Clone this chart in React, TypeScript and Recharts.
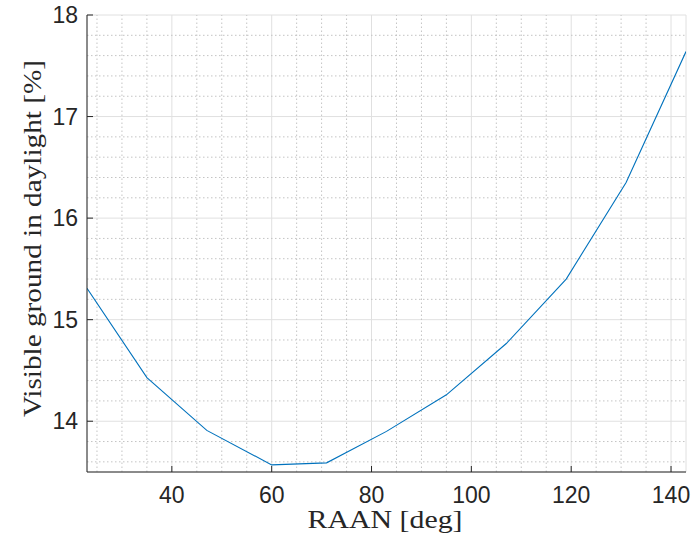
import React from 'react';
import { LineChart, Line, XAxis, YAxis, CartesianGrid, ReferenceLine } from 'recharts';

const raan = [23, 35, 47, 60, 71, 83, 95, 107, 119, 131, 143];
const visible = [15.31, 14.43, 13.91, 13.57, 13.59, 13.9, 14.26, 14.765, 15.4, 16.35, 17.64];

const xTicks = [40, 60, 80, 100, 120, 140];
const yTicks = [14, 15, 16, 17, 18];
const xMinor = [25, 30, 35, 45, 50, 55, 65, 70, 75, 85, 90, 95, 105, 110, 115, 125, 130, 135];
const yMinor = [13.6, 13.8, 14.2, 14.4, 14.6, 14.8, 15.2, 15.4, 15.6, 15.8, 16.2, 16.4, 16.6, 16.8, 17.2, 17.4, 17.6, 17.8];

const data = raan.map((r, i) => ({ raan: r, v: visible[i] }));

const AXIS = '#262626';
const tickFont = { fontFamily: '"Liberation Sans", Arial, sans-serif', fontSize: 23, fill: '#262626' };
const labelFont = '"Liberation Serif", "Times New Roman", serif';

export default function App() {
  return (
    <div style={{ position: 'absolute', left: 0, top: 0, background: '#fff' }}>
      <LineChart width={691} height={548} data={data} margin={{ top: 15, right: 5, bottom: 0, left: 0 }}>
        {yMinor.map((v) => (
          <ReferenceLine key={'ym' + v} y={v} stroke="#c4c4c4" strokeDasharray="1.5 2.5" strokeWidth={1} />
        ))}
        {xMinor.map((v) => (
          <ReferenceLine key={'xm' + v} x={v} stroke="#c4c4c4" strokeDasharray="1.5 2.5" strokeWidth={1} />
        ))}
        <CartesianGrid stroke="#e0e0e0" strokeWidth={1} />
        <XAxis
          dataKey="raan"
          type="number"
          domain={[23, 143]}
          ticks={xTicks}
          allowDataOverflow
          height={76}
          stroke={AXIS}
          tickSize={-6}
          tickMargin={21}
          tick={tickFont}
          label={(p: any) => {
            const vb = p.viewBox;
            return (
              <text x={vb.x + vb.width / 2 - 1.5} y={528} textAnchor="middle"
                textLength={155} lengthAdjust="spacingAndGlyphs"
                style={{ fontFamily: labelFont, fontSize: 25, fill: '#262626' }}>
                RAAN [deg]
              </text>
            );
          }}
        />
        <XAxis
          xAxisId="top"
          dataKey="raan"
          type="number"
          orientation="top"
          domain={[23, 143]}
          ticks={xTicks}
          allowDataOverflow
          height={0}
          stroke={AXIS}
          tickSize={-6}
          tick={false}
        />
        <YAxis
          type="number"
          domain={[13.5, 18]}
          ticks={yTicks}
          allowDataOverflow
          width={87}
          stroke={AXIS}
          tickSize={-6}
          tickMargin={15}
          tick={tickFont}
          label={(p: any) => {
            const vb = p.viewBox;
            const cx = 41;
            const cy = vb.y + vb.height / 2 - 5;
            return (
              <text x={cx} y={cy} transform={`rotate(-90 ${cx} ${cy})`} textAnchor="middle"
                textLength={357} lengthAdjust="spacingAndGlyphs"
                style={{ fontFamily: labelFont, fontSize: 25, fill: '#262626' }}>
                Visible ground in daylight [%]
              </text>
            );
          }}
        />
        <YAxis
          yAxisId="right"
          orientation="right"
          type="number"
          domain={[13.5, 18]}
          ticks={yTicks}
          allowDataOverflow
          width={0}
          stroke={AXIS}
          tickSize={-6}
          tick={false}
        />
        <Line
          type="linear"
          dataKey="v"
          stroke="#0072BD"
          strokeWidth={1.1}
          dot={false}
          isAnimationActive={false}
        />
      </LineChart>
    </div>
  );
}
